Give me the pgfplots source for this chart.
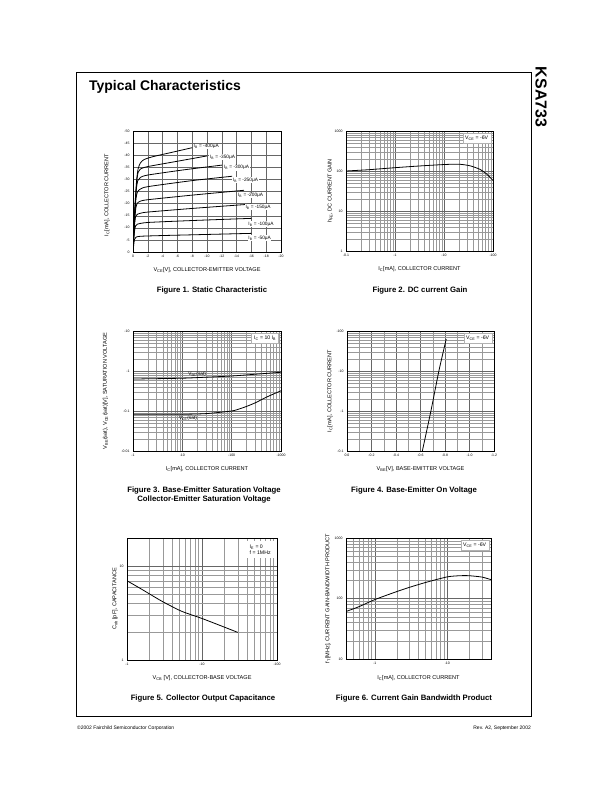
\documentclass[border=0pt]{standalone}
\usepackage{fontspec}
\setmainfont{Liberation Sans}
\usepackage{pgfplots}
\pgfplotsset{compat=1.18}

\pgfplotsset{
  sheet/.style={
    scale only axis,
    anchor=south west,
    axis line style={line width=0.8pt},
    major tick length=0pt, minor tick length=0pt,
    grid=both,
    major grid style={black!60, line width=0.35pt},
    minor grid style={black!40, line width=0.25pt},
    tick label style={font=\fontsize{3.5}{4}\selectfont},
    every axis x label/.style={at={(axis description cs:0.5,-0.15)}, anchor=center, font=\fontsize{5.6}{6.5}\selectfont},
    every axis y label/.style={at={(axis description cs:-0.12,0.5)}, anchor=center, rotate=90, font=\fontsize{5.6}{6.5}\selectfont},
  },
  curve/.style={black, line width=0.8pt, no marks, smooth, tension=0.4},
}
\tikzset{
  note/.style={fill=white, draw=black!30, line width=0.3pt, font=\fontsize{5.2}{6}\selectfont, inner sep=2.5pt},
  lab/.style={fill=white, inner sep=0.6pt, font=\fontsize{4.8}{5.5}\selectfont},
}

\begin{document}
\begin{tikzpicture}
\path[use as bounding box] (0,0) rectangle (612bp,792bp);
\draw[line width=0.8pt] (76bp,76bp) rectangle (531bp,720bp);
\node[anchor=base west, inner sep=0pt, font=\fontsize{14}{16}\selectfont\bfseries] at (89bp,701bp) {Typical Characteristics};
\node[rotate=-90, font=\fontsize{16}{18}\selectfont\bfseries] at (541bp,695bp) {KSA733};
\node[anchor=west, inner sep=0pt, font=\fontsize{5}{6}\selectfont] at (77bp,64bp) {©2002 Fairchild Semiconductor Corporation};
\node[anchor=east, inner sep=0pt, font=\fontsize{5}{6}\selectfont] at (531bp,64bp) {Rev. A2, September 2002};

% Figure 1
\begin{axis}[sheet, at={(133bp,540bp)}, width=148bp, height=121bp,
  xmin=0, xmax=20, ymin=0, ymax=50, grid=major,
  xtick={0,2,...,20}, xticklabels={0,-2,-4,-6,-8,-10,-12,-14,-16,-18,-20},
  ytick={0,5,...,50}, yticklabels={0,-5,-10,-15,-20,-25,-30,-35,-40,-45,-50},
  xlabel={V\textsubscript{CE}[V], COLLECTOR-EMITTER VOLTAGE},
  ylabel={I\textsubscript{C}[mA], COLLECTOR CURRENT},
  ylabel style={at={(axis description cs:-0.176,0.47)}},
]
\addplot[curve] coordinates {(0,0) (0.1,3) (0.2,5.2) (0.4,6.1) (1,6.5) (4,6.8) (8,7.1) (12,7.4) (16,7.7)};
\addplot[curve] coordinates {(0,0) (0.1,5) (0.2,8.5) (0.35,10.8) (0.6,11.5) (2,12.2) (8,13) (16,13.9)};
\addplot[curve] coordinates {(0,0) (0.1,6) (0.2,11) (0.35,14.5) (0.6,15.6) (1,16) (2,16.5) (8,18) (16,19.8)};
\addplot[curve] coordinates {(0,0) (0.1,7) (0.25,14) (0.4,18.5) (0.6,20.2) (1,21) (2,21.6) (8,23.5) (15,25.5)};
\addplot[curve] coordinates {(0,0) (0.1,7.5) (0.25,16) (0.4,22) (0.6,24.8) (1,26) (2,27) (8,29.5) (13.4,31.3)};
\addplot[curve] coordinates {(0,0) (0.1,8) (0.3,19) (0.45,26) (0.65,29.5) (1,30.8) (2,31.8) (7,34) (12,35.9)};
\addplot[curve] coordinates {(0,0) (0.1,8.5) (0.3,20) (0.5,29) (0.7,33) (1,34.3) (2,35.3) (6,37.5) (10,39.7)};
\addplot[curve] coordinates {(0,0) (0.1,9) (0.3,21) (0.5,30) (0.7,34.5) (1,36.8) (1.5,38.2) (2.7,39.4) (5,41) (8,43.1)};
\node[lab, anchor=west] at (axis cs:8.1,43.5) {I\textsubscript{B} = -400μA};
\node[lab, anchor=west] at (axis cs:10.3,39.3) {I\textsubscript{B} = -350μA};
\node[lab, anchor=west] at (axis cs:12.2,34.8) {I\textsubscript{B} = -300μA};
\node[lab, anchor=west] at (axis cs:13.4,29.7) {I\textsubscript{B} = -250μA};
\node[lab, anchor=west] at (axis cs:14.1,23.3) {I\textsubscript{B} = -200μA};
\node[lab, anchor=west] at (axis cs:15.1,18.6) {I\textsubscript{B} = -150μA};
\node[lab, anchor=west] at (axis cs:15.5,11.6) {I\textsubscript{B} = -100μA};
\node[lab, anchor=west] at (axis cs:15.5,5.7) {I\textsubscript{B} = -50μA};
\end{axis}

% Figure 2
\begin{axis}[sheet, at={(346bp,541bp)}, width=147bp, height=120bp,
  xmode=log, ymode=log, xmin=0.1, xmax=100, ymin=1, ymax=1000,
  xtick={0.1,1,10,100}, xticklabels={-0.1,-1,-10,-100},
  minor xtick={0.2,0.3,0.4,0.5,0.6,0.7,0.8,0.9,2,3,4,5,6,7,8,9,20,30,40,50,60,70,80,90},
  ytick={1,10,100,1000}, yticklabels={1,10,100,1000},
  minor ytick={2,3,4,5,6,7,8,9,20,30,40,50,60,70,80,90,200,300,400,500,600,700,800,900},
  xlabel={I\textsubscript{C}[mA], COLLECTOR CURRENT},
  ylabel={h\textsubscript{FE}, DC CURRENT GAIN},
  ylabel style={at={(axis description cs:-0.109,0.5)}},
]
\addplot[curve] coordinates {(0.1,100) (0.3,108) (1,121) (3,133) (10,145) (20,148) (34,135) (54,110) (75,83) (100,58)};
\node[note, anchor=north east] at (rel axis cs:0.985,0.98) {V\textsubscript{CE} = -6V};
\end{axis}

% Figure 3
\begin{axis}[sheet, at={(133bp,341bp)}, width=148bp, height=120bp,
  xmode=log, ymode=log, xmin=1, xmax=1000, ymin=0.01, ymax=10,
  xtick={1,10,100,1000}, xticklabels={-1,-10,-100,-1000},
  minor xtick={2,3,4,5,6,7,8,9,20,30,40,50,60,70,80,90,200,300,400,500,600,700,800,900},
  ytick={0.01,0.1,1,10}, yticklabels={-0.01,-0.1,-1,-10},
  minor ytick={0.02,0.03,0.04,0.05,0.06,0.07,0.08,0.09,0.2,0.3,0.4,0.5,0.6,0.7,0.8,0.9,2,3,4,5,6,7,8,9},
  xlabel={I\textsubscript{C}[mA], COLLECTOR CURRENT},
  ylabel={V\textsubscript{BE}(sat), V\textsubscript{CE}(sat)[V], SATURATION VOLTAGE},
  ylabel style={at={(axis description cs:-0.186,0.5)}},
]
\addplot[curve] coordinates {(1,0.63) (10,0.66) (30,0.70) (100,0.75) (300,0.83) (1000,0.93)};
\addplot[curve] coordinates {(1,0.083) (10,0.083) (30,0.086) (100,0.1) (150,0.115) (200,0.13) (300,0.16) (500,0.22) (700,0.265) (1000,0.32)};
\node[anchor=south, inner sep=0.5pt, font=\fontsize{4.8}{5.5}\selectfont] at (axis cs:20,0.7) {V\textsubscript{BE}(sat)};
\node[anchor=north, inner sep=0.5pt, font=\fontsize{4.8}{5.5}\selectfont] at (axis cs:13,0.078) {V\textsubscript{CE}(sat)};
\node[note, anchor=north east] at (rel axis cs:0.985,0.98) {I\textsubscript{C} = 10 I\textsubscript{B}};
\end{axis}

% Figure 4
\begin{axis}[sheet, at={(347bp,341bp)}, width=147bp, height=120bp,
  ymode=log, xmin=0, xmax=1.2, ymin=0.1, ymax=100,
  xtick={0,0.2,0.4,0.6,0.8,1.0,1.2}, xticklabels={0.0,-0.2,-0.4,-0.6,-0.8,-1.0,-1.2},
  minor x tick num=1,
  ytick={0.1,1,10,100}, yticklabels={-0.1,-1,-10,-100},
  minor ytick={0.2,0.3,0.4,0.5,0.6,0.7,0.8,0.9,2,3,4,5,6,7,8,9,20,30,40,50,60,70,80,90},
  xlabel={V\textsubscript{BE}[V], BASE-EMITTER VOLTAGE},
  ylabel={I\textsubscript{C}[mA], COLLECTOR CURRENT},
  ylabel style={at={(axis description cs:-0.116,0.5)}},
]
\addplot[curve] coordinates {(0.615,0.1) (0.685,1) (0.75,10) (0.81,63)};
\node[note, anchor=north east] at (rel axis cs:0.985,0.98) {V\textsubscript{CE} = -6V};
\end{axis}

% Figure 5
\begin{axis}[sheet, at={(127bp,132bp)}, width=150bp, height=122bp,
  xmode=log, ymode=log, xmin=1, xmax=100, ymin=1, ymax=20,
  xtick={1,10,100}, xticklabels={-1,-10,-100},
  minor xtick={2,3,4,5,6,7,8,9,20,30,40,50,60,70,80,90},
  ytick={1,10}, yticklabels={1,10},
  minor ytick={2,3,4,5,6,7,8,9},
  xlabel={V\textsubscript{CB} [V], COLLECTOR-BASE VOLTAGE},
  ylabel={C\textsubscript{ob} [pF], CAPACITANCE},
  ylabel style={at={(axis description cs:-0.08,0.5)}},
]
\addplot[curve] coordinates {(1,7.0) (1.56,5.7) (2.88,4.26) (5.3,3.32) (9.9,2.78) (18.3,2.3) (30,1.97)};
\node[note, draw=none, anchor=north east, align=left, inner sep=4pt] at (rel axis cs:0.985,0.98) {I\textsubscript{E} = 0\\f = 1MHz};
\end{axis}

% Figure 6
\begin{axis}[sheet, at={(346bp,133bp)}, width=145bp, height=121bp,
  xmode=log, ymode=log, xmin=0.4, xmax=40, ymin=10, ymax=1000,
  xtick={1,10}, xticklabels={-1,-10},
  minor xtick={0.5,0.6,0.7,0.8,0.9,2,3,4,5,6,7,8,9,20,30},
  ytick={10,100,1000}, yticklabels={10,100,1000},
  minor ytick={20,30,40,50,60,70,80,90,200,300,400,500,600,700,800,900},
  xlabel={I\textsubscript{C}[mA], COLLECTOR CURRENT},
  ylabel={f\textsubscript{T}[MHz], CURRENT GAIN-BANDWIDTH PRODUCT},
  ylabel style={at={(axis description cs:-0.124,0.5)}},
  xlabel style={at={(axis description cs:0.5,-0.16)}},
]
\addplot[curve] coordinates {(0.4,61) (0.6,73) (1,96) (2,130) (3,153) (5,184) (10,228) (15,238) (20,238) (30,226) (40,205)};
\node[note, anchor=north east] at (rel axis cs:0.985,0.98) {V\textsubscript{CE} = -6V};
\end{axis}

% captions
\begin{scope}[every node/.style={font=\fontsize{7.8}{9.4}\selectfont\bfseries}]
\node at (212bp,501bp) {Figure 1. Static Characteristic};
\node at (420bp,501bp) {Figure 2. DC current Gain};
\node[align=center] at (204bp,297bp) {Figure 3. Base-Emitter Saturation Voltage\\Collector-Emitter Saturation Voltage};
\node at (414bp,301bp) {Figure 4. Base-Emitter On Voltage};
\node at (203bp,93bp) {Figure 5. Collector Output Capacitance};
\node at (414bp,93bp) {Figure 6. Current Gain Bandwidth Product};
\end{scope}
\end{tikzpicture}
\end{document}
